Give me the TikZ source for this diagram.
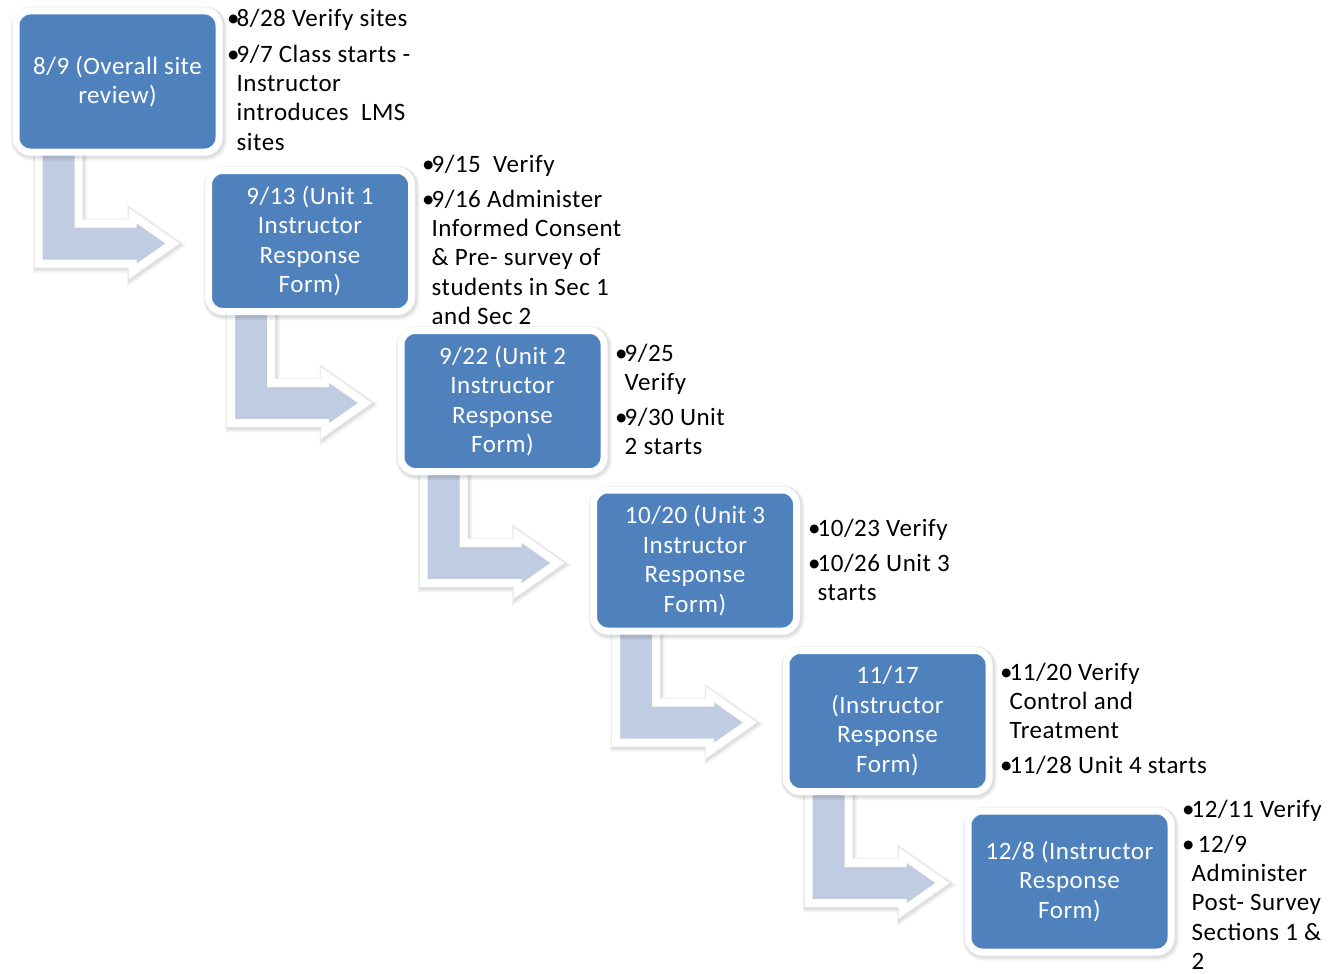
\documentclass[tikz,border=0pt]{standalone}
\usepackage{fontspec}
\setmainfont{Carlito}[LetterSpace=2.0]
\definecolor{boxblue}{HTML}{4F81BD}
\definecolor{arrowblue}{HTML}{C0CCE1}
\newcommand\bul{\makebox[9.5pt][l]{•}}
\newcommand\ind{\hspace*{9.5pt}}
\newcommand\notelines[1]{\begin{tabular}[t]{@{}l@{}}#1\end{tabular}}
\begin{document}
\begin{tikzpicture}[x=1pt,y=-1pt,
  glow/.style={
    preaction={draw=black, draw opacity=0.05, line width=#1+6pt,
      transform canvas={shift={(1.5,2)}}},
    preaction={draw=black, draw opacity=0.07, line width=#1+3pt,
      transform canvas={shift={(1,1.5)}}}},
  stepbox/.style={rectangle, rounded corners=14pt, fill=boxblue, draw=white,
    glow=7pt, line width=7pt, minimum width=203pt, minimum height=141pt, outer sep=0pt,
    text=white, align=center, inner sep=0pt,
    font=\fontsize{25}{29.5}\selectfont},
  bent/.style={glow=8pt, fill=arrowblue, draw=white, line width=8pt},
  note/.style={anchor=base west, inner sep=0pt, text=black,
    font=\fontsize{25}{29.3}\selectfont}]
\fill[white] (0,0) rectangle (1331,974);
\useasboundingbox (0,0) rectangle (1331,974);

\path (117.5,81.5) coordinate (c1) (310,241) coordinate (c2) (502.5,401) coordinate (c3)
      (695,560.5) coordinate (c4) (887.5,721) coordinate (c5) (1069.5,881.5) coordinate (c6);
\foreach \i in {1,...,5}{
  \coordinate (s\i) at ([shift={(-101.5+22.5,70.5-13.5)}]c\i);
  \draw[bent] (s\i) -- ++(40,0) -- ++(0,85) -- ++(54,0) -- ++(0,-8) -- ++(40,28)
     -- ++(-40,28) -- ++(0,-8) -- ++(-94,0) -- cycle;
}

\node[stepbox] (b1) at (c1) {8/9 (Overall site\\review)};
\node[stepbox] (b2) at (c2) {9/13 (Unit 1\\Instructor\\Response\\Form)};
\node[stepbox] (b3) at (c3) {9/22 (Unit 2\\Instructor\\Response\\Form)};
\node[stepbox] (b4) at (c4) {10/20 (Unit 3\\Instructor\\Response\\Form)};
\node[stepbox] (b5) at (c5) {11/17\\(Instructor\\Response\\Form)};
\node[stepbox] (b6) at (c6) {12/8 (Instructor\\Response\\Form)};

\node[note] (t1) at (227,27) {\notelines{\bul 8/28 Verify sites\\[6pt]\bul 9/7 Class starts -\\\ind Instructor\\\ind introduces\ \ LMS\\\ind sites}};
\node[note] (t2) at (422,172) {\notelines{\bul 9/15\ \ Verify\\[6pt]\bul 9/16 Administer\\\ind Informed Consent\\\ind \& Pre- survey of\\\ind students in Sec 1\\\ind and Sec 2}};
\node[note] (t3) at (615,361) {\notelines{\bul 9/25\\\ind Verify\\[6pt]\bul 9/30 Unit\\\ind 2 starts}};
\node[note] (t4) at (808,536) {\notelines{\bul 10/23 Verify\\[6pt]\bul 10/26 Unit 3\\\ind starts}};
\node[note] (t5) at (1000,680) {\notelines{\bul 11/20 Verify\\\ind Control and\\\ind Treatment\\[6pt]\bul 11/28 Unit 4 starts}};
\node[note] (t6) at (1182,817) {\notelines{\bul 12/11 Verify\\[6pt]\bul\ 12/9\\\ind Administer\\\ind Post- Survey\\\ind Sections 1 \&\\\ind 2}};
\end{tikzpicture}
\end{document}
